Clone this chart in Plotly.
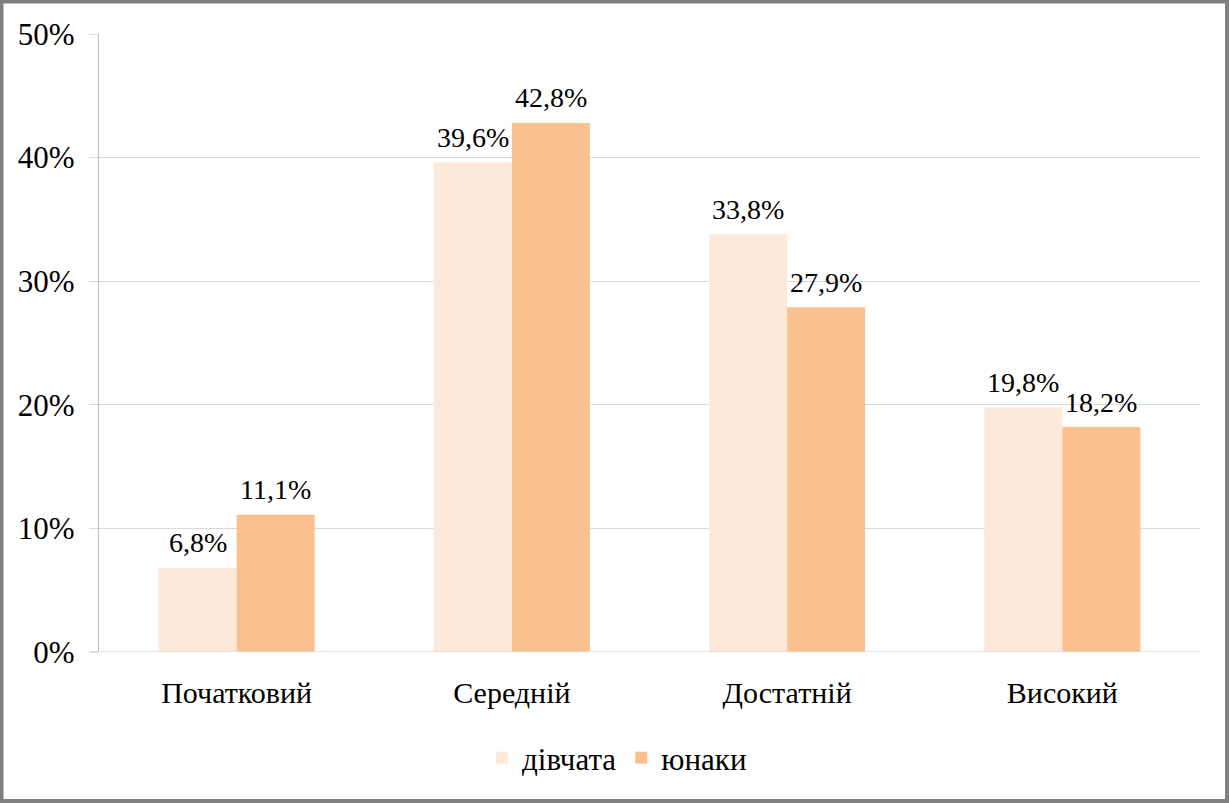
import plotly.graph_objects as go

categories = ["Початковий", "Середній", "Достатній", "Високий"]
girls = [6.8, 39.6, 33.8, 19.8]
boys = [11.1, 42.8, 27.9, 18.2]
series_names = ["дівчата", "юнаки"]
tick_vals = [0, 10, 20, 30, 40, 50]
tick_text = ["0%", "10%", "20%", "30%", "40%", "50%"]

FONT = "Liberation Serif, Times New Roman, serif"
W, H = 1229, 803
ML, MR, MT, MB = 99, 29, 34, 151
BARGAP = 0.433

def lbl(v):
    return f"{v:.1f}%".replace(".", ",")

pw = W - ML - MR
ph = H - MT - MB
def px(x):
    return (x - ML) / pw
def py(y):
    return (H - MB - y) / ph

bar_px = pw / len(categories) * (1 - BARGAP) / 2

fig = go.Figure()
annotations = []
for i, (name, vals, col) in enumerate([(series_names[0], girls, "#FDE9D9"),
                                       (series_names[1], boys, "#FAC090")]):
    fig.add_trace(go.Bar(
        x=categories, y=vals, name=name,
        marker=dict(color=col, line=dict(width=0)),
    ))
    shift = (-0.5 if i == 0 else 0.5) * bar_px
    for c, v in zip(categories, vals):
        annotations.append(dict(x=c, y=v, xref="x", yref="y", text=lbl(v),
                                showarrow=False, xshift=shift, yshift=25,
                                yanchor="middle", xanchor="center",
                                font=dict(family=FONT, size=28, color="#000000")))

fig.update_layout(
    width=W, height=H,
    margin=dict(l=ML, r=MR, t=MT, b=MB),
    paper_bgcolor="white", plot_bgcolor="white",
    barmode="group", bargap=BARGAP, bargroupgap=0,
    font=dict(family=FONT, size=28, color="#000000"),
    showlegend=True,
    legend=dict(orientation="h", x=px(482), xanchor="left", y=py(758), yanchor="middle",
                font=dict(family=FONT, size=31), itemwidth=30, traceorder="normal"),
    xaxis=dict(showgrid=False, showline=False, ticks="", tickfont=dict(family=FONT, size=30),
               ticklabelstandoff=20),
    yaxis=dict(range=[0, 50], tickvals=tick_vals, ticktext=tick_text,
               showgrid=True, gridcolor="#D9D9D9", gridwidth=1.3,
               showline=True, linecolor="#BFBFBF", linewidth=1.3,
               ticks="outside", ticklen=9, tickcolor="#D9D9D9", tickwidth=1.3,
               tickfont=dict(family=FONT, size=31), ticklabelstandoff=8, zeroline=False),
    annotations=annotations,
    shapes=[dict(type="rect", xref="paper", yref="paper",
                 x0=px(1.5), x1=px(W - 2), y0=py(1.5), y1=py(H - 2),
                 line=dict(color="#808080", width=4), fillcolor="rgba(0,0,0,0)", layer="above"),
            dict(type="line", xref="paper", yref="y", x0=px(90), x1=1, y0=0, y1=0,
                 line=dict(color="#D9D9D9", width=1.5))],
)

fig.write_html("out.html", config={"displayModeBar": False},
               post_script="document.body.style.margin='0';document.body.style.overflow='hidden';")
